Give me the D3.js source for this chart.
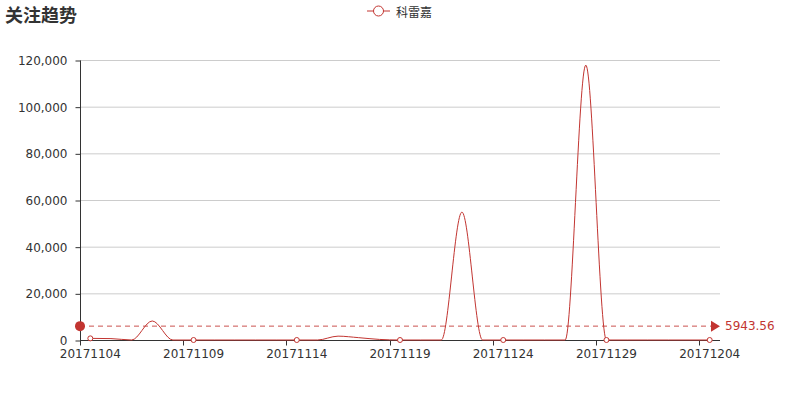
<!DOCTYPE html>
<html>
<head>
<meta charset="utf-8">
<script src="https://cdn.jsdelivr.net/npm/d3@7/dist/d3.min.js"></script>
<style>
  body { margin: 0; background: #fff; }
  text { font-family: "DejaVu Sans", "Noto Sans CJK SC", sans-serif; }
</style>
</head>
<body>
<div id="chart"></div>
<script>
// chart data
var title = "关注趋势";
var seriesName = "科雷嘉";
var dates = ["20171104","20171105","20171106","20171107","20171108","20171109",
             "20171110","20171111","20171112","20171113","20171114","20171115",
             "20171116","20171117","20171118","20171119","20171120","20171121",
             "20171122","20171123","20171124","20171125","20171126","20171127",
             "20171128","20171129","20171130","20171201","20171202","20171203",
             "20171204"];
var values = [700, 600, 0, 8150, 0, 0,
              0, 0, 0, 0, 0, 0,
              1650, 1000, 250, 0, 0, 0,
              54800, 0, 0, 0, 0, 0,
              117800, 0, 0, 0, 0, 0,
              0];
var yTicks = [0, 20000, 40000, 60000, 80000, 100000, 120000];
var averageValue = 5943.56;
var labelEvery = 5;

var color = "#c23531";
var width = 800, height = 400;
var left_border = 80, right_border = 720, top_border = 60, bottom_border = 340;

var svg = d3.select("#chart")
            .append("svg")
            .attr("width", width)
            .attr("height", height);

var x = d3.scaleBand()
          .domain(dates)
          .range([left_border, right_border])
          .padding(0);

var y = d3.scaleLinear()
          .domain([0, d3.max(yTicks)])
          .range([bottom_border, top_border]);

function cx(d) { return x(d) + x.bandwidth() / 2; }

// title
svg.append("text")
   .attr("x", 5)
   .attr("y", 22)
   .style("font-family", "'Noto Sans CJK SC', sans-serif")
   .style("font-size", "18px")
   .style("font-weight", "bold")
   .style("fill", "#333")
   .text(title);

// legend
var legend = svg.append("g");
legend.append("line")
   .attr("x1", 367).attr("x2", 390)
   .attr("y1", 11).attr("y2", 11)
   .style("stroke", color)
   .style("stroke-width", 1);
legend.append("circle")
   .attr("cx", 378.5).attr("cy", 11).attr("r", 5)
   .style("fill", "#fff")
   .style("stroke", color)
   .style("stroke-width", 1);
legend.append("text")
   .attr("x", 396)
   .attr("y", 11)
   .attr("dominant-baseline", "central")
   .style("font-family", "'Noto Sans CJK SC', sans-serif")
   .style("font-size", "12px")
   .style("fill", "#333")
   .text(seriesName);

// grid lines
svg.selectAll(".grid")
   .data(yTicks.filter(function(d) { return d > 0; }))
   .enter()
   .append("line")
   .attr("class", "grid")
   .attr("x1", left_border)
   .attr("x2", right_border)
   .attr("y1", function(d) { return y(d) + 0.5; })
   .attr("y2", function(d) { return y(d) + 0.5; })
   .style("stroke", "#ccc")
   .style("stroke-width", 1);

// y axis
var yAxis = d3.axisLeft(y)
              .tickValues(yTicks)
              .tickFormat(d3.format(","))
              .tickSize(5)
              .tickPadding(8);
var gy = svg.append("g")
   .attr("transform", "translate(" + (left_border + 0.5) + ",0.5)")
   .call(yAxis);
gy.select(".domain").attr("stroke", "#333").attr("d", "M0," + top_border + "V" + bottom_border);
gy.selectAll(".tick line").attr("stroke", "#333");
gy.selectAll(".tick text")
   .style("font-size", "12px")
   .style("fill", "#333")
   .style("font-family", "'DejaVu Sans', sans-serif");

// x axis
var tickDates = dates.filter(function(d, i) { return i % labelEvery === 0; });
var gx = svg.append("g")
   .attr("transform", "translate(0," + (bottom_border + 0.5) + ")");
gx.append("line")
   .attr("x1", left_border).attr("x2", right_border)
   .attr("y1", 0).attr("y2", 0)
   .style("stroke", "#333");
gx.selectAll(".xtick")
   .data(tickDates)
   .enter()
   .append("line")
   .attr("class", "xtick")
   .attr("x1", function(d) { return Math.round(x(d)) + 0.5; })
   .attr("x2", function(d) { return Math.round(x(d)) + 0.5; })
   .attr("y1", 0).attr("y2", 5)
   .style("stroke", "#333");
gx.selectAll(".xlabel")
   .data(tickDates)
   .enter()
   .append("text")
   .attr("class", "xlabel")
   .attr("x", cx)
   .attr("y", 17)
   .attr("text-anchor", "middle")
   .style("font-size", "12px")
   .style("fill", "#333")
   .text(function(d) { return d; });

// series line
var points = dates.map(function(d, i) { return [d, values[i]]; });
var line = d3.line()
   .x(function(d) { return cx(d[0]); })
   .y(function(d) { return y(d[1]); })
   .curve(d3.curveMonotoneX);

svg.append("path")
   .datum(points)
   .attr("d", line)
   .style("fill", "none")
   .style("stroke", color)
   .style("stroke-width", 1);

// symbols on label positions only
svg.selectAll(".symbol")
   .data(points.filter(function(d, i) { return i % labelEvery === 0; }))
   .enter()
   .append("circle")
   .attr("class", "symbol")
   .attr("cx", function(d) { return cx(d[0]); })
   .attr("cy", function(d) { return y(d[1]); })
   .attr("r", 2.5)
   .style("fill", "#fff")
   .style("stroke", color)
   .style("stroke-width", 1);

// average mark line
var ay = y(averageValue);
svg.append("line")
   .attr("x1", left_border)
   .attr("x2", right_border - 8)
   .attr("y1", ay).attr("y2", ay)
   .style("stroke", color)
   .style("stroke-width", 1)
   .style("stroke-dasharray", "5,4")
   .style("opacity", 0.85);
svg.append("circle")
   .attr("cx", left_border)
   .attr("cy", ay)
   .attr("r", 5)
   .style("fill", color);
svg.append("path")
   .attr("d", "M" + (right_border - 9) + "," + (ay - 5.5) +
              "L" + right_border + "," + ay +
              "L" + (right_border - 9) + "," + (ay + 5.5) + "Z")
   .style("fill", color);
svg.append("text")
   .attr("x", right_border + 5)
   .attr("y", ay)
   .attr("dominant-baseline", "central")
   .style("font-size", "12px")
   .style("fill", color)
   .text(d3.format(".2f")(averageValue));
</script>
</body>
</html>
